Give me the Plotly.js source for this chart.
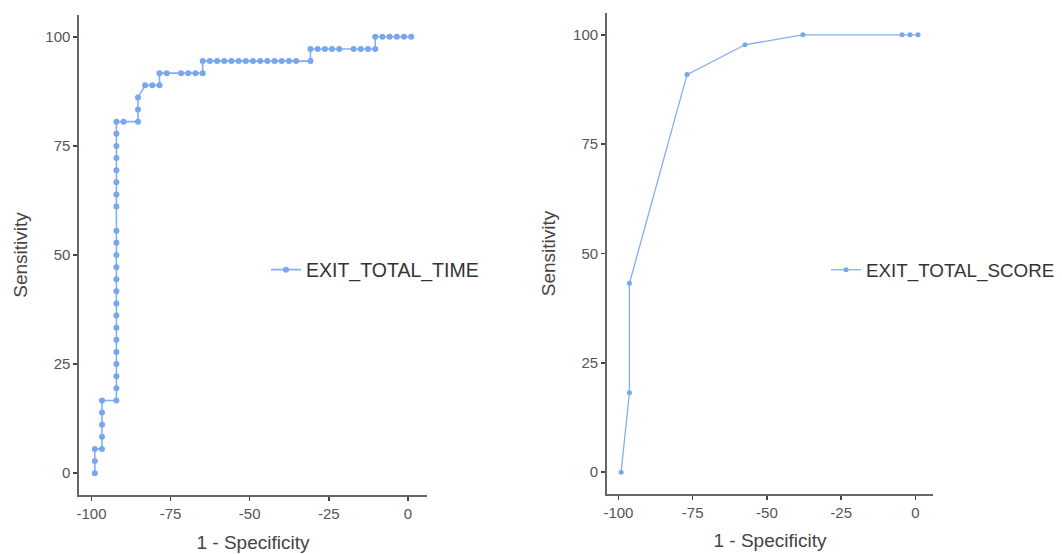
<!DOCTYPE html>
<html>
<head>
<meta charset="utf-8">
<script src="https://cdn.plot.ly/plotly-3.0.1.min.js"></script>
<style>
html,body{margin:0;padding:0;background:#fff;}
#chart{width:1062px;height:554px;}
</style>
</head>
<body>
<div id="chart"></div>
<script>
// EXIT_TOTAL_TIME ROC points (x = 1 - Specificity shown as negative, y = Sensitivity)
const timeX = [-98.96,-98.96,-98.96,-96.69,-96.69,-96.69,-96.69,-96.69,
  -92.14,-92.14,-92.14,-92.14,-92.14,-92.14,-92.14,-92.14,-92.14,-92.14,-92.14,-92.14,-92.14,-92.14,-92.14,
  -92.14,-92.14,-92.14,-92.14,-92.14,-92.14,-92.14,-92.14,
  -89.87,-85.32,-85.32,-85.32,-83.05,-80.78,-78.51,-78.51,-76.23,-71.69,-69.41,-67.14,-64.87,-64.87,
  -62.60,-60.32,-58.05,-55.78,-53.51,-51.23,-48.96,-46.69,-44.41,-42.14,-39.87,-37.60,-35.32,-30.78,
  -30.78,-28.51,-26.23,-23.96,-21.69,-17.14,-14.87,-12.60,-10.32,-10.32,-8.05,-5.78,-3.51,-1.23,1.04];
const timeY = [0,2.78,5.56,5.56,8.33,11.11,13.89,16.67,
  16.67,19.44,22.22,25,27.78,30.56,33.33,36.11,38.89,41.67,44.44,47.22,50,52.78,55.56,
  61.11,63.89,66.67,69.44,72.22,75,77.78,80.56,
  80.56,80.56,83.33,86.11,88.89,88.89,88.89,91.67,91.67,91.67,91.67,91.67,91.67,94.44,
  94.44,94.44,94.44,94.44,94.44,94.44,94.44,94.44,94.44,94.44,94.44,94.44,94.44,94.44,
  97.22,97.22,97.22,97.22,97.22,97.22,97.22,97.22,97.22,100,100,100,100,100,100];

// EXIT_TOTAL_SCORE ROC points
const scoreX = [-99.1,-96.3,-96.3,-76.9,-57.4,-37.9,-4.5,-1.8,0.9];
const scoreY = [0,18.18,43.18,90.91,97.73,100,100,100,100];

const xTicks = [-100,-75,-50,-25,0];
const xTickText = ['-100','-75','-50','-25','0'];
const yTicks = [0,25,50,75,100];
const names = ['EXIT_TOTAL_TIME','EXIT_TOTAL_SCORE'];
const xTitle = '1 - Specificity';
const yTitle = 'Sensitivity';

const W = 1062, H = 554;
const FONT = 'Liberation Sans, Arial, sans-serif';

const traces = [
  {x: timeX, y: timeY, name: names[0], type: 'scatter', mode: 'lines+markers',
   xaxis: 'x', yaxis: 'y', legend: 'legend',
   line: {color: 'rgba(112,160,238,0.85)', width: 1.6},
   marker: {color: '#78a6ef', size: 6}},
  {x: scoreX, y: scoreY, name: names[1], type: 'scatter', mode: 'lines+markers',
   xaxis: 'x2', yaxis: 'y2', legend: 'legend2',
   line: {color: 'rgba(112,160,238,0.85)', width: 1.3},
   marker: {color: '#78a6ef', size: 5}}
];

function xa(dom, anchor, standoff) {
  return {domain: dom, anchor: anchor, range: [-103.96, 6.04],
    tickmode: 'array', tickvals: xTicks, ticktext: xTickText,
    showgrid: false, zeroline: false, showline: true, linecolor: '#666', linewidth: 1.6,
    ticks: 'outside', ticklen: 4, tickwidth: 1.5, tickcolor: '#444',
    tickfont: {family: FONT, size: 15, color: '#555'},
    title: {text: xTitle, font: {family: FONT, size: 19, color: '#444'}, standoff: standoff}};
}
function ya(dom, anchor, standoff) {
  return {domain: dom, anchor: anchor, range: [-5, 105], tickvals: yTicks,
    showgrid: false, zeroline: false, showline: true, linecolor: '#666', linewidth: 1.6,
    ticks: 'outside', ticklen: 4, tickwidth: 1.5, tickcolor: '#444',
    tickfont: {family: FONT, size: 15, color: '#555'},
    title: {text: yTitle, font: {family: FONT, size: 19, color: '#444'}, standoff: standoff}};
}

const layout = {
  width: W, height: H,
  margin: {l: 0, r: 0, t: 0, b: 0},
  paper_bgcolor: '#fff', plot_bgcolor: '#fff',
  showlegend: true,
  xaxis: xa([79/W, 427/W], 'y', 15),
  yaxis: ya([(H-495)/H, (H-15)/H], 'x', 13),
  xaxis2: xa([606.7/W, 933.3/W], 'y2', 14),
  yaxis2: ya([(H-494)/H, (H-13)/H], 'x2', 12),
  legend: {x: 266/W, y: (H-270)/H, xanchor: 'left', yanchor: 'middle',
    bgcolor: 'rgba(0,0,0,0)', font: {family: FONT, size: 19.5, color: '#333'}},
  legend2: {x: 826/W, y: (H-270)/H, xanchor: 'left', yanchor: 'middle',
    bgcolor: 'rgba(0,0,0,0)', font: {family: FONT, size: 18.8, color: '#333'}}
};

Plotly.newPlot('chart', traces, layout, {displayModeBar: false, staticPlot: true});
</script>
</body>
</html>
